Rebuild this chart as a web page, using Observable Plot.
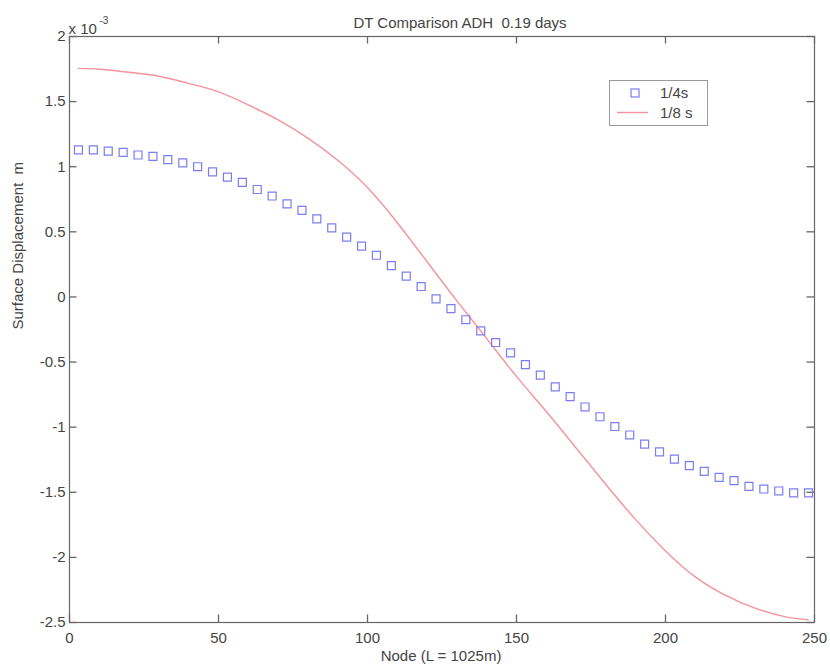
<!DOCTYPE html>
<html><head><meta charset="utf-8">
<script src="https://cdn.jsdelivr.net/npm/d3@7"></script>
<script src="https://cdn.jsdelivr.net/npm/@observablehq/plot@0.6"></script>
<style>
body{margin:0;background:#fff;}
#wrap{position:relative;width:830px;height:671px;font-family:"Liberation Sans",Arial,sans-serif;color:#444}
#legend{position:absolute;left:609px;top:80px;}
</style></head><body><div id="wrap"></div>
<script>
const title = "DT Comparison ADH  0.19 days";
const xLabel = "Node (L = 1025m)";
const yLabel = "Surface Displacement  m";
const scaleBase = "x 10";
const scaleExp = "-3";
const seriesNames = ["1/4s", "1/8 s"];
const seriesColors = ["#7c7cf2", "#f4939c"];
const xDomain = [0, 250];
const yDomain = [-2.5, 2];
const xTicks = [0, 50, 100, 150, 200, 250];
const yTicks = [-2.5, -2, -1.5, -1, -0.5, 0, 0.5, 1, 1.5, 2];

// dt = 1/4 s (square markers)
const nodesQuarter = [3, 8, 13, 18, 23, 28, 33, 38, 43, 48, 53, 58, 63, 68, 73, 78, 83, 88, 93, 98,
  103, 108, 113, 118, 123, 128, 133, 138, 143, 148, 153, 158, 163, 168, 173, 178, 183, 188, 193, 198,
  203, 208, 213, 218, 223, 228, 233, 238, 243, 248];
const dispQuarter = [1.13, 1.13, 1.12, 1.11, 1.09, 1.08, 1.055, 1.03, 1.00, 0.96, 0.92, 0.88, 0.825, 0.775, 0.715, 0.665, 0.60, 0.53, 0.46, 0.39,
  0.32, 0.24, 0.16, 0.08, -0.015, -0.09, -0.175, -0.26, -0.35, -0.43, -0.52, -0.60, -0.69, -0.765, -0.845, -0.92, -0.995, -1.06, -1.13, -1.19,
  -1.245, -1.295, -1.34, -1.385, -1.41, -1.455, -1.475, -1.49, -1.505, -1.505];

// dt = 1/8 s (line)
const nodesEighth = [3, 10, 20, 30, 40, 50, 60, 70, 80, 90, 100, 110, 120, 130, 140, 150, 160, 170, 180, 190, 200, 210, 220, 230, 240, 248];
const dispEighth = [1.755, 1.748, 1.725, 1.695, 1.64, 1.575, 1.475, 1.36, 1.22, 1.05, 0.84, 0.57, 0.27, -0.03, -0.32, -0.61, -0.88, -1.16, -1.44, -1.71, -1.95, -2.15, -2.29, -2.39, -2.455, -2.48];

const quarter = nodesQuarter.map((n, i) => ({node: n, disp: dispQuarter[i]}));
const eighth = nodesEighth.map((n, i) => ({node: n, disp: dispEighth[i]}));

const axisGrey = "#666";
const W = 830, H = 671, mL = 69, mR = 16, mT = 36, mB = 49;
const tick = 7.5; // tick length in px
const fmt = d => String(d);
// tick length converted to data units of each scale
const tickY = tick * (yDomain[1] - yDomain[0]) / (H - mT - mB);
const tickX = tick * (xDomain[1] - xDomain[0]) / (W - mL - mR);

const chart = Plot.plot({
  width: W, height: H,
  marginLeft: mL, marginRight: mR, marginTop: mT, marginBottom: mB,
  x: {domain: xDomain},
  y: {domain: yDomain},
  style: {fontFamily: '"Liberation Sans", Arial, sans-serif', fontSize: "15px", color: "#444", background: "#fff"},
  marks: [
    Plot.frame({stroke: axisGrey, strokeWidth: 1.2, fill: "none"}),
    Plot.axisX(xTicks, {anchor: "bottom", tickSize: 0, tickPadding: 10, tickFormat: fmt, label: null}),
    Plot.axisY(yTicks, {anchor: "left", tickSize: 0, tickPadding: 4, tickFormat: fmt, label: null}),
    // inward ticks on all four sides
    Plot.ruleX(xTicks, {x: d => d, y1: () => yDomain[0], y2: () => yDomain[0] + tickY, stroke: axisGrey, strokeWidth: 1.3}),
    Plot.ruleX(xTicks, {x: d => d, y1: () => yDomain[1], y2: () => yDomain[1] - tickY, stroke: axisGrey, strokeWidth: 1.3}),
    Plot.ruleY(yTicks, {y: d => d, x1: () => xDomain[0], x2: () => xDomain[0] + tickX, stroke: axisGrey, strokeWidth: 1.3}),
    Plot.ruleY(yTicks, {y: d => d, x1: () => xDomain[1], x2: () => xDomain[1] - tickX, stroke: axisGrey, strokeWidth: 1.3}),
    Plot.line(eighth, {x: "node", y: "disp", stroke: seriesColors[1], strokeWidth: 1.4, curve: "natural"}),
    Plot.dot(quarter, {x: "node", y: "disp", symbol: "square", r: 4.5, stroke: seriesColors[0], strokeWidth: 1.2, fill: "none"}),
    Plot.text([title], {frameAnchor: "top", dx: 18, dy: -19, fontSize: 15, fill: "#444"}),
    Plot.text([xLabel], {frameAnchor: "bottom", dx: -1, dy: 38, fontSize: 15, fill: "#444"}),
    Plot.text([yLabel], {frameAnchor: "left", rotate: -90, dx: -51, dy: 0, fontSize: 15, fill: "#444"}),
    Plot.text([scaleBase], {frameAnchor: "top-left", textAnchor: "start", dx: -1, dy: -13.5, fontSize: 15, fill: "#444"}),
    Plot.text([scaleExp], {frameAnchor: "top-left", textAnchor: "start", dx: 30, dy: -20, fontSize: 10, fill: "#444"})
  ]
});
const wrap = document.getElementById("wrap");
wrap.appendChild(chart);

// legend
const lg = d3.select(wrap).append("svg").attr("id", "legend").attr("width", 100).attr("height", 47);
lg.append("rect").attr("x", 0.5).attr("y", 0.5).attr("width", 98).attr("height", 45)
  .attr("fill", "#fff").attr("stroke", "#999");
lg.append("rect").attr("x", 22).attr("y", 9).attr("width", 8).attr("height", 8)
  .attr("fill", "none").attr("stroke", seriesColors[0]).attr("stroke-width", 1.2);
lg.append("line").attr("x1", 8).attr("x2", 39).attr("y1", 32.5).attr("y2", 32.5)
  .attr("stroke", seriesColors[1]).attr("stroke-width", 1.4);
lg.selectAll("text.lab").data(seriesNames).join("text").attr("class", "lab")
  .attr("x", 51).attr("y", (d, i) => i === 0 ? 13 : 33).attr("dy", "0.35em")
  .attr("font-size", 15).attr("fill", "#444").text(d => d);
</script>
</body></html>
